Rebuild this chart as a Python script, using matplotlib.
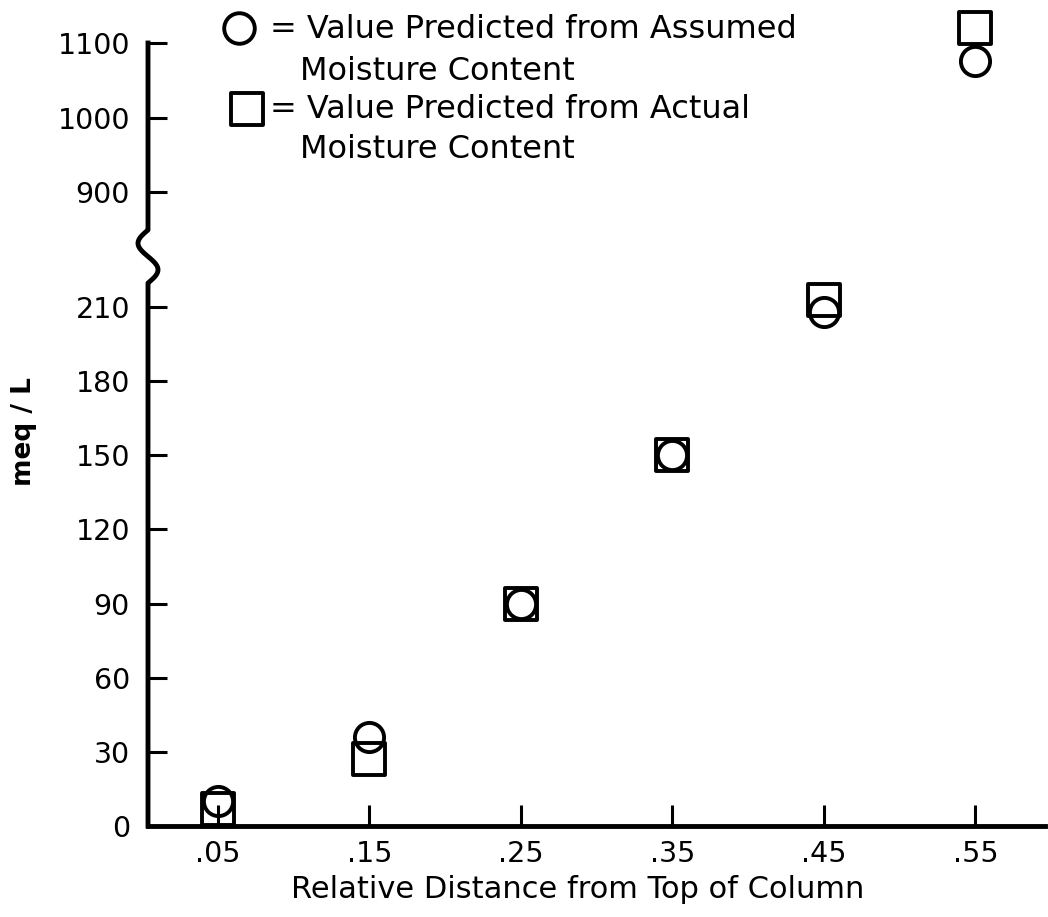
import matplotlib.pyplot as plt
import numpy as np
from matplotlib.lines import Line2D
from matplotlib.markers import MarkerStyle
from matplotlib.ticker import FixedLocator

# values
dist = [0.05, 0.15, 0.25, 0.35, 0.45, 0.55]
assumed = [10, 36, 90, 150, 208, 1076]   # circles
actual = [7, 27, 90, 150, 213, 1120]     # squares

xticks = [0.05, 0.15, 0.25, 0.35, 0.45, 0.55]
xticklabels = ['.05', '.15', '.25', '.35', '.45', '.55']
yticks = [0, 30, 60, 90, 120, 150, 180, 210, 900, 1000, 1100]

# broken y axis: 0-210 linear, then 900-1100 compressed
LOW_BRK = 231.0
HI_BRK = 815.4
UP0 = 256.5      # where 900 lands in lower units
RATIO = 0.3016


def fwd(v):
    v = np.asarray(v, dtype=float)
    return np.where(v <= LOW_BRK, v,
                    np.where(v >= HI_BRK, UP0 + (v - 900) * RATIO, LOW_BRK))


def inv(u):
    u = np.asarray(u, dtype=float)
    return np.where(u <= LOW_BRK, u, 900 + (u - UP0) / RATIO)


plt.rcParams['font.family'] = 'DejaVu Sans'

fig = plt.figure(figsize=(10.48, 9.17), dpi=100)
W, H = 1048, 917
ax = fig.add_axes([148 / W, 91 / H, 897 / W, 783 / H])

ax.set_yscale('function', functions=(fwd, inv))
ax.set_ylim(0, 1100)
ax.set_xlim(0.0038, 0.596)

ms_c = MarkerStyle('o')
ms_s = MarkerStyle('s', joinstyle='round')

ax.plot(dist, assumed, linestyle='none', marker=ms_c, ms=21, mfc='none',
        mec='black', mew=2.8, clip_on=False, zorder=5)
ax.plot(dist, actual, linestyle='none', marker=ms_s, ms=23, mfc='none',
        mec='black', mew=2.8, clip_on=False, zorder=5)

for s in ['top', 'right', 'left']:
    ax.spines[s].set_visible(False)
ax.spines['bottom'].set_linewidth(3.5)

ax.yaxis.set_major_locator(FixedLocator(yticks))
ax.set_yticklabels([str(t) for t in yticks])
ax.yaxis.set_minor_locator(FixedLocator([]))
ax.set_xticks(xticks)
ax.set_xticklabels(xticklabels)

ax.tick_params(axis='y', direction='in', length=14, width=2.2, pad=13,
               labelsize=20.5)
ax.tick_params(axis='x', direction='in', length=15, width=2.2, pad=10,
               labelsize=20.5)

# left spine drawn by hand with the break squiggle
y_lo = (826 - 283) / 783
y_hi = (826 - 230) / 783
amp = 10 / 897
t = np.linspace(0, 1, 60)
sx = amp * np.sin(2 * np.pi * t)
sy = y_lo + t * (y_hi - y_lo)
px = np.concatenate([[0, 0], sx, [0, 0]])
py = np.concatenate([[0, y_lo], sy, [y_hi, 1]])
ax.add_line(Line2D(px, py, transform=ax.transAxes, color='black', lw=3.5,
                   clip_on=False, solid_capstyle='projecting',
                   solid_joinstyle='round'))

ax.set_xlabel('Relative Distance from Top of Column', fontsize=22)
ax.xaxis.set_label_coords(0.479, -0.062)
fig.text(24 / W, 1 - 432 / H, 'meq / L', rotation=90, ha='center',
         va='center', fontsize=19, fontweight='bold')

# key
fig.add_artist(Line2D([239 / W], [1 - 28 / H], marker=ms_c, ms=22,
                      mfc='none', mec='black', mew=2.8,
                      transform=fig.transFigure))
fig.add_artist(Line2D([247 / W], [1 - 109 / H], marker=ms_s, ms=23,
                      mfc='none', mec='black', mew=2.8,
                      transform=fig.transFigure))
fig.text(270 / W, 1 - 30 / H, '= Value Predicted from Assumed', va='center',
         fontsize=23)
fig.text(300 / W, 1 - 72 / H, 'Moisture Content', va='center', fontsize=23)
fig.text(270 / W, 1 - 110 / H, '= Value Predicted from Actual', va='center',
         fontsize=23)
fig.text(300 / W, 1 - 150 / H, 'Moisture Content', va='center', fontsize=23)

fig.savefig('out.png', dpi=100)
